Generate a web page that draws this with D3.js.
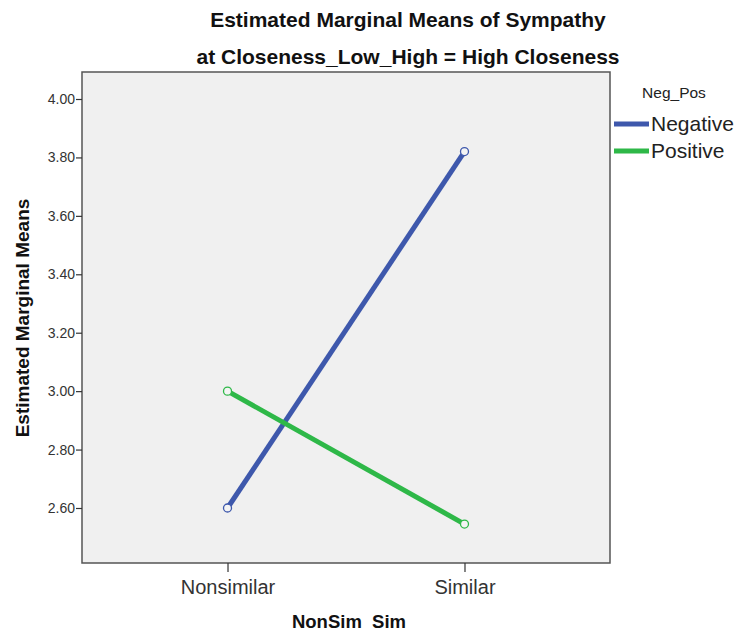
<!DOCTYPE html>
<html>
<head>
<meta charset="utf-8">
<script src="https://cdn.jsdelivr.net/npm/d3@7"></script>
<style>
  body { margin: 0; background: #fff; }
  svg { display: block; font-family: "Liberation Sans", Arial, sans-serif; }
</style>
</head>
<body>
<svg id="chart" width="740" height="638"></svg>
<script>
const categories = ["Nonsimilar", "Similar"];
const seriesNames = ["Negative", "Positive"];
const negativeValues = [2.60, 3.82];
const positiveValues = [3.00, 2.545];
const yTicks = [2.60, 2.80, 3.00, 3.20, 3.40, 3.60, 3.80, 4.00];
const colors = ["#3E58AC", "#2EB848"];

const svg = d3.select("#chart");
const plot = { left: 82, right: 610, top: 72, bottom: 563 };

const x = d3.scalePoint().domain(categories).range([plot.left, plot.right]).padding(0.614);
const y = d3.scaleLinear().domain([2.6, 4.0]).range([508, 99]);

// background
svg.append("rect")
  .attr("x", plot.left).attr("y", plot.top)
  .attr("width", plot.right - plot.left).attr("height", plot.bottom - plot.top)
  .attr("fill", "#F0F0F0").attr("stroke", "#555").attr("stroke-width", 1.5);

// titles
svg.append("text").attr("x", 408).attr("y", 27).attr("text-anchor", "middle")
  .attr("font-weight", "bold").attr("font-size", 21).attr("fill", "#111")
  .text("Estimated Marginal Means of Sympathy");
svg.append("text").attr("x", 408).attr("y", 64).attr("text-anchor", "middle")
  .attr("font-weight", "bold").attr("font-size", 21).attr("fill", "#111")
  .text("at Closeness_Low_High = High Closeness");

// y axis
const yAxis = svg.append("g").attr("transform", `translate(${plot.left},0)`)
  .call(d3.axisLeft(y).tickValues(yTicks).tickFormat(d3.format(".2f")).tickSize(6).tickSizeOuter(0));
yAxis.select(".domain").remove();
yAxis.selectAll(".tick line").attr("stroke", "#333").attr("stroke-width", 1.2);
yAxis.selectAll(".tick text").attr("font-size", 14).attr("fill", "#333")
  .attr("font-family", "'Liberation Sans', Arial, sans-serif").attr("x", -7);

// x axis
const xAxis = svg.append("g").attr("transform", `translate(0,${plot.bottom})`)
  .call(d3.axisBottom(x).tickSize(9).tickSizeOuter(0));
xAxis.select(".domain").remove();
xAxis.selectAll(".tick line").attr("stroke", "#333").attr("stroke-width", 1.2);
xAxis.selectAll(".tick text").attr("font-size", 20).attr("fill", "#333")
  .attr("font-family", "'Liberation Sans', Arial, sans-serif").attr("y", 17);

// axis titles
svg.append("text").attr("x", 349).attr("y", 628).attr("text-anchor", "middle")
  .attr("font-weight", "bold").attr("font-size", 18.5).attr("fill", "#111")
  .text("NonSim\u00A0\u00A0Sim");
svg.append("text").attr("transform", "translate(29,318) rotate(-90)").attr("text-anchor", "middle")
  .attr("font-weight", "bold").attr("font-size", 19).attr("fill", "#111")
  .text("Estimated Marginal Means");

// series
const series = [negativeValues, positiveValues].map((vals, i) => ({
  name: seriesNames[i], color: colors[i],
  points: categories.map((c, j) => ({ c, v: vals[j] }))
}));
const line = d3.line().x(d => x(d.c)).y(d => y(d.v));
const g = svg.append("g");
series.forEach(s => {
  g.append("path").attr("d", line(s.points)).attr("fill", "none")
    .attr("stroke", s.color).attr("stroke-width", 5);
});
series.forEach(s => {
  g.selectAll(null).data(s.points).enter().append("circle")
    .attr("cx", d => x(d.c)).attr("cy", d => y(d.v)).attr("r", 4)
    .attr("fill", "#F4F4F4").attr("stroke", s.color).attr("stroke-width", 1.3);
});

// legend
svg.append("text").attr("x", 674).attr("y", 98).attr("text-anchor", "middle")
  .attr("font-size", 15.5).attr("fill", "#222").text("Neg_Pos");
series.forEach((s, i) => {
  const ly = 124 + i * 27;
  svg.append("line").attr("x1", 614).attr("x2", 649).attr("y1", ly).attr("y2", ly)
    .attr("stroke", s.color).attr("stroke-width", 5);
  svg.append("text").attr("x", 651).attr("y", ly + 7).attr("font-size", 21)
    .attr("fill", "#222").text(s.name);
});
</script>
</body>
</html>
